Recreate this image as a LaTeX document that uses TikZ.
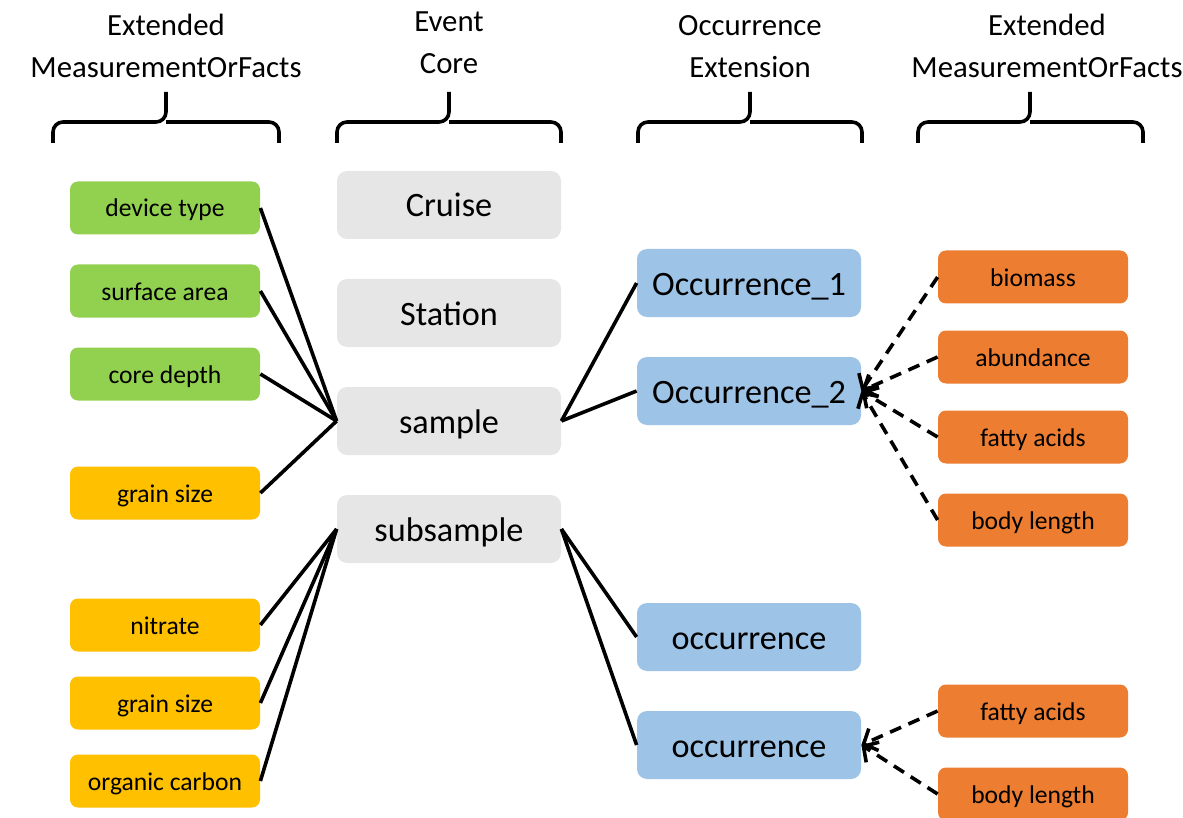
\documentclass[tikz,border=0pt]{standalone}
\usepackage{fontspec}
\setmainfont{Carlito}
\usetikzlibrary{arrows.meta}
\definecolor{factgreen}{HTML}{92D050}
\definecolor{factyellow}{HTML}{FFC000}
\definecolor{coregrey}{HTML}{E7E6E6}
\definecolor{occblue}{HTML}{9DC3E6}
\definecolor{factorange}{HTML}{ED7D31}
\tikzset{%
    fact/.style={
      rectangle,
      rounded corners=4pt,
      minimum width=95pt,
      minimum height=26.5pt,
      inner sep=0pt,
      font=\fontsize{12.8}{15}\selectfont,
      text height=10.5pt,
      text depth=1.5pt
    },
    record/.style={
      rectangle,
      rounded corners=5pt,
      minimum width=112pt,
      minimum height=34pt,
      inner sep=0pt,
      font=\fontsize{17.1}{20}\selectfont,
      text height=13.5pt,
      text depth=1.5pt
    },
    title/.style={
      align=center,
      font=\fontsize{15.4}{21}\selectfont
    },
    link/.style={line width=1.8pt},
    mof/.style={
      line width=1.8pt,
      dash pattern=on 6pt off 4pt,
      -{Straight Barb[length=5.5pt,width=12pt]}
    },
    brace/.style={line width=1.8pt, rounded corners=5pt}
  }

\begin{document}
\begin{tikzpicture}[x=0.5pt, y=-0.5pt]
      \useasboundingbox (0,0) rectangle (1183,818);

      \node [title] (t1) at (166,46) {Extended\\MeasurementOrFacts};
      \node [title] (t2) at (449,43) {Event\\Core};
      \node [title] (t3) at (750,47) {Occurrence\\Extension};
      \node [title] (t4) at (1047,46) {Extended\\MeasurementOrFacts};

      % braces
      \draw [brace] (53,143) |- (166,122) -- (166,92);
      \draw [brace] (279,143) |- (166,122);
      \draw [brace] (337,143) |- (449,122) -- (449,92);
      \draw [brace] (561,143) |- (449,122);
      \draw [brace] (638,143) |- (750,122) -- (750,92);
      \draw [brace] (862,143) |- (750,122);
      \draw [brace] (918,143) |- (1030,122) -- (1030,92);
      \draw [brace] (1143,143) |- (1030,122);

      \node [fact, fill=factgreen] (device) at (165,208) {device type};
      \node [fact, fill=factgreen] (surface) at (165,291) {surface area};
      \node [fact, fill=factgreen] (depth) at (165,374) {core depth};
      \node [fact, fill=factyellow] (grain) at (165,493) {grain size};
      \node [fact, fill=factyellow] (nitrate) at (165,625) {nitrate};
      \node [fact, fill=factyellow] (grainsub) at (165,703) {grain size};
      \node [fact, fill=factyellow] (carbon) at (165,781) {organic carbon};

      \node [record, fill=coregrey] (cruise) at (449,205) {Cruise};
      \node [record, fill=coregrey] (station) at (449,313) {Station};
      \node [record, fill=coregrey] (sample) at (449,421) {sample};
      \node [record, fill=coregrey] (subsample) at (449,529) {subsample};

      \node [record, fill=occblue] (occ1) at (749,283) {Occurrence\_1};
      \node [record, fill=occblue] (occ2) at (749,391) {Occurrence\_2};
      \node [record, fill=occblue] (occ3) at (749,637) {occurrence};
      \node [record, fill=occblue] (occ4) at (749,745) {occurrence};

      \node [fact, fill=factorange] (biomass) at (1033,277) {biomass};
      \node [fact, fill=factorange] (abund) at (1033,357) {abundance};
      \node [fact, fill=factorange] (fatty) at (1033,437) {fatty acids};
      \node [fact, fill=factorange] (length) at (1033,520) {body length};
      \node [fact, fill=factorange] (fattysub) at (1033,711) {fatty acids};
      \node [fact, fill=factorange] (lengthsub) at (1033,794) {body length};

      \draw [link] (device.east) -- (sample.west);
      \draw [link] (surface.east) -- (sample.west);
      \draw [link] (depth.east) -- (sample.west);
      \draw [link] (grain.east) -- (sample.west);

      \draw [link] (nitrate.east) -- (subsample.west);
      \draw [link] (grainsub.east) -- (subsample.west);
      \draw [link] (carbon.east) -- (subsample.west);

      \draw [link] (sample.east) -- (occ1.west);
      \draw [link] (sample.east) -- (occ2.west);
      \draw [link] (subsample.east) -- (occ3.west);
      \draw [link] (subsample.east) -- (occ4.west);

      \draw [mof] (biomass.west) -- (occ2.east);
      \draw [mof] (abund.west) -- (occ2.east);
      \draw [mof] (fatty.west) -- (occ2.east);
      \draw [mof] (length.west) -- (occ2.east);
      \draw [mof] (fattysub.west) -- (occ4.east);
      \draw [mof] (lengthsub.west) -- (occ4.east);
\end{tikzpicture}
\end{document}
